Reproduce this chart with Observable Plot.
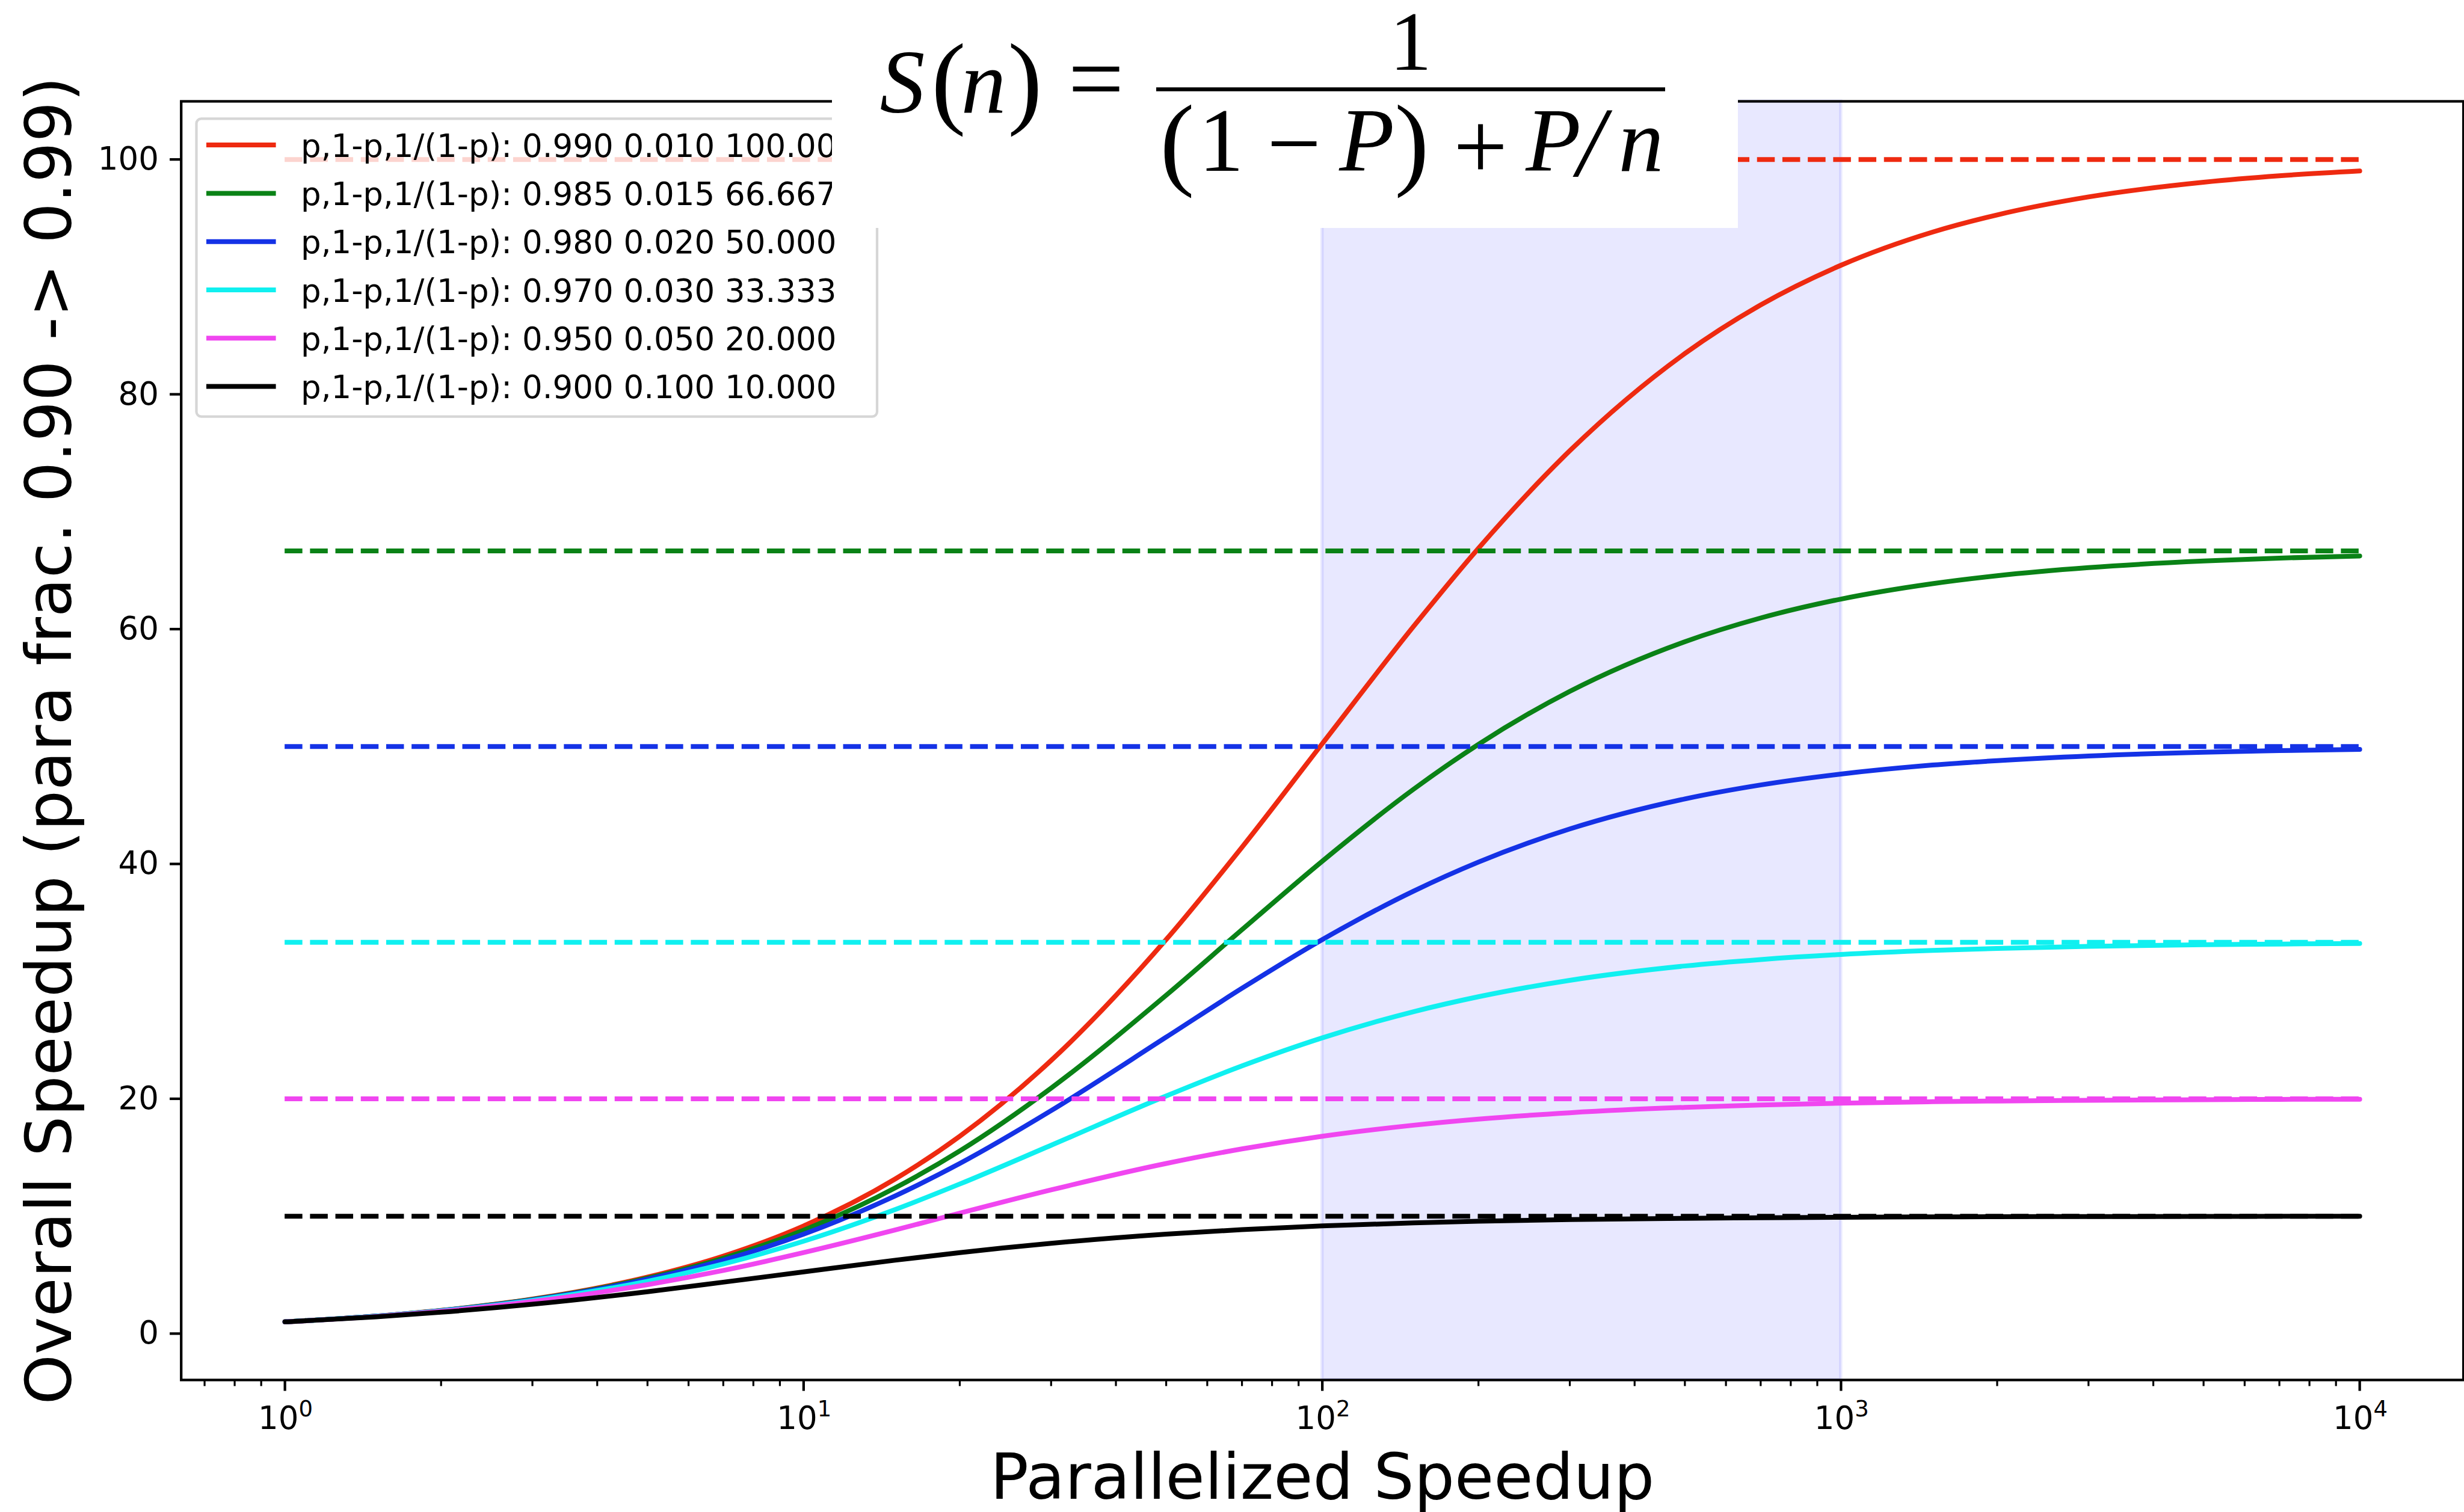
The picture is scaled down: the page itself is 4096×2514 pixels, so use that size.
<!DOCTYPE html>
<html>
<head>
<meta charset="utf-8">
<script src="https://cdn.jsdelivr.net/npm/d3@7"></script>
<script src="https://cdn.jsdelivr.net/npm/@observablehq/plot@0.6"></script>
<style>
  html, body { margin: 0; padding: 0; background: white; }
  #chart { position: relative; width: 4096px; height: 2514px; }
</style>
</head>
<body>
<div id="chart"></div>
<script>
// ---------------- data ----------------
const nValues = [1, 1.5, 2, 3, 5, 7, 10, 15, 20, 30, 50, 70, 100, 150, 200, 300, 500, 700, 1000, 1500, 2000, 3000, 5000, 7000, 10000];
const S990 = [1, 1.49, 1.98, 2.94, 4.81, 6.60, 9.17, 13.16, 16.81, 23.26, 33.56, 41.42, 50.25, 60.24, 66.89, 75.19, 83.47, 87.61, 90.99, 93.81, 95.28, 96.81, 98.06, 98.61, 99.02];
const S985 = [1, 1.49, 1.97, 2.91, 4.72, 6.42, 8.81, 12.40, 15.56, 20.91, 28.82, 34.40, 40.24, 46.37, 50.19, 54.70, 58.93, 60.95, 62.56, 63.87, 64.55, 65.24, 65.80, 66.05, 66.23];
const S980 = [1, 1.49, 1.96, 2.88, 4.63, 6.25, 8.47, 11.72, 14.49, 18.99, 25.25, 29.41, 33.56, 37.69, 40.16, 42.98, 45.54, 46.73, 47.66, 48.42, 48.80, 49.20, 49.52, 49.65, 49.76];
const S970 = [1, 1.48, 1.94, 2.83, 4.46, 5.93, 7.87, 10.56, 12.74, 16.04, 20.24, 22.80, 25.19, 27.42, 28.69, 30.09, 31.31, 31.86, 32.29, 32.63, 32.80, 32.98, 33.12, 33.18, 33.23];
const S950 = [1, 1.46, 1.90, 2.73, 4.17, 5.38, 6.90, 8.82, 10.26, 12.24, 14.49, 15.73, 16.81, 17.75, 18.27, 18.81, 19.27, 19.47, 19.63, 19.75, 19.81, 19.87, 19.92, 19.95, 19.96];
const S900 = [1, 1.43, 1.82, 2.50, 3.57, 4.38, 5.26, 6.25, 6.90, 7.69, 8.47, 8.86, 9.17, 9.43, 9.57, 9.71, 9.82, 9.87, 9.91, 9.94, 9.96, 9.97, 9.98, 9.99, 9.99];
const asymptotes = [100, 66.667, 50, 33.333, 20, 10];
const seriesColors = ["#ee2a10", "#0a8216", "#1432e6", "#10f0f0", "#f046f0", "#000000"];
const legendLabels = [
  "p,1-p,1/(1-p): 0.990 0.010 100.000",
  "p,1-p,1/(1-p): 0.985 0.015 66.667",
  "p,1-p,1/(1-p): 0.980 0.020 50.000",
  "p,1-p,1/(1-p): 0.970 0.030 33.333",
  "p,1-p,1/(1-p): 0.950 0.050 20.000",
  "p,1-p,1/(1-p): 0.900 0.100 10.000"
];
const shadedSpan = [{lo: 100, hi: 1000}];
const yTicks = [0, 20, 40, 60, 80, 100];
const xMajorTicks = [1, 10, 100, 1000, 10000];
const xMajorExponents = ["0", "1", "2", "3", "4"];
const xMinorTicks = [0.7, 0.8, 0.9,
  2, 3, 4, 5, 6, 7, 8, 9,
  20, 30, 40, 50, 60, 70, 80, 90,
  200, 300, 400, 500, 600, 700, 800, 900,
  2000, 3000, 4000, 5000, 6000, 7000, 8000, 9000];
const xLabel = "Parallelized Speedup";
const yLabel = "Overall Speedup (para frac. 0.90 -> 0.99)";

// ---------------- build tables ----------------
const seriesValues = [S990, S985, S980, S970, S950, S900];
const curveTables = seriesValues.map(vals => nValues.map((n, i) => ({n, s: vals[i]})));
const asymTables = asymptotes.map(a => [{y: a, x1: nValues[0], x2: nValues[nValues.length - 1]}]);
const majorTable = xMajorTicks.map((v, i) => ({v, e: xMajorExponents[i]}));

const font = "DejaVu Sans, sans-serif";
const lw = 8;

const marks = [
  Plot.rect(shadedSpan, {x1: "lo", x2: "hi", fill: "blue", fillOpacity: 0.09, stroke: "blue", strokeOpacity: 0.09, strokeWidth: 5.3})
];
curveTables.forEach((tbl, i) => {
  marks.push(Plot.line(tbl, {x: "n", y: "s", stroke: seriesColors[i], strokeWidth: lw, curve: "monotone-x"}));
  marks.push(Plot.ruleY(asymTables[i], {y: "y", x1: "x1", x2: "x2", stroke: seriesColors[i], strokeWidth: lw, strokeDasharray: "29.5,12.7"}));
});
marks.push(
  Plot.frame({stroke: "black", strokeWidth: 4.25}),
  Plot.axisY({ticks: yTicks, tickSize: 18.6, tickPadding: 18.6, fontSize: 53, strokeWidth: 4.25, label: null}),
  Plot.axisX({ticks: xMajorTicks, tickSize: 18.6, strokeWidth: 4.25, label: null, tickFormat: () => ""}),
  Plot.axisX({ticks: xMinorTicks, tickSize: 10.6, strokeWidth: 3.2, label: null, tickFormat: () => ""}),
  Plot.text(majorTable, {x: "v", frameAnchor: "bottom", text: () => "10", dx: -11, dy: 81, lineAnchor: "bottom", textAnchor: "middle", fontSize: 53}),
  Plot.text(majorTable, {x: "v", frameAnchor: "bottom", text: "e", dx: 34.5, dy: 60, lineAnchor: "bottom", textAnchor: "middle", fontSize: 37}),
  Plot.text([xLabel], {frameAnchor: "bottom", dy: 197, lineAnchor: "bottom", textAnchor: "middle", fontSize: 106, text: d => d}),
  Plot.text([yLabel], {frameAnchor: "left", dx: -183.7, rotate: -90, lineAnchor: "bottom", textAnchor: "middle", fontSize: 106, text: d => d})
);

const chart = Plot.plot({
  width: 4096,
  height: 2514,
  marginLeft: 300.7,
  marginRight: 1.4,
  marginTop: 168,
  marginBottom: 220,
  style: {fontFamily: font, background: "white", overflow: "visible", color: "black"},
  x: {type: "log", domain: [Math.pow(10, -0.2), Math.pow(10, 4.2)]},
  y: {domain: [-3.95, 104.95]},
  marks
});

// ---------------- legend (inside plot area) ----------------
const svg = d3.select(chart);
const lg = svg.append("g").attr("font-family", font).attr("font-size", 53).attr("text-anchor", "start");
lg.append("rect")
  .attr("x", 326.5).attr("y", 197.3)
  .attr("width", 1458 - 326.5).attr("height", 692.5 - 197.3)
  .attr("rx", 8).attr("ry", 8)
  .attr("fill", "white").attr("fill-opacity", 0.8)
  .attr("stroke", "#cccccc").attr("stroke-opacity", 0.8).attr("stroke-width", 4.25);
legendLabels.forEach((lab, i) => {
  const cy = 241.1 + i * 80.3;
  lg.append("line").attr("x1", 343).attr("x2", 458.6).attr("y1", cy).attr("y2", cy)
    .attr("stroke", seriesColors[i]).attr("stroke-width", lw);
  lg.append("text").attr("x", 500).attr("y", cy + 19.5).attr("text-anchor", "start").attr("fill", "black").text(lab);
});

// ---------------- formula box ----------------
const fg = svg.append("g").attr("font-family", "Liberation Serif, Times New Roman, serif").attr("fill", "black");
fg.append("rect").attr("x", 1383).attr("y", 0).attr("width", 2889 - 1383).attr("height", 379).attr("fill", "white");
const pieces = [
  {t: "S", x: 1500, y: 187, s: 150, it: true},
  {t: "(", x: 1577, y: 191, s: 172},
  {t: "n", x: 1635, y: 187, s: 150, it: true},
  {t: ")", x: 1704, y: 191, s: 172},
  {t: "=", x: 1822, y: 186, s: 165},
  {t: "1", x: 2345, y: 116, s: 140},
  {t: "(", x: 1957, y: 293, s: 172},
  {t: "1", x: 2030, y: 284, s: 150},
  {t: "\u2212", x: 2151, y: 292, s: 160},
  {t: "P", x: 2272, y: 284, s: 150, it: true},
  {t: ")", x: 2347, y: 293, s: 172},
  {t: "+", x: 2461, y: 298, s: 160},
  {t: "P", x: 2582, y: 284, s: 150, it: true},
  {t: "/", x: 2645, y: 292, s: 165, it: true},
  {t: "n", x: 2728, y: 284, s: 150, it: true}
];
pieces.forEach(p => {
  fg.append("text").attr("x", p.x).attr("y", p.y).attr("text-anchor", "middle")
    .attr("font-size", p.s).attr("font-style", p.it ? "italic" : "normal").text(p.t);
});
fg.append("line").attr("x1", 1922).attr("x2", 2768).attr("y1", 148.5).attr("y2", 148.5)
  .attr("stroke", "black").attr("stroke-width", 6.5);

document.getElementById("chart").appendChild(chart);
</script>
</body>
</html>
